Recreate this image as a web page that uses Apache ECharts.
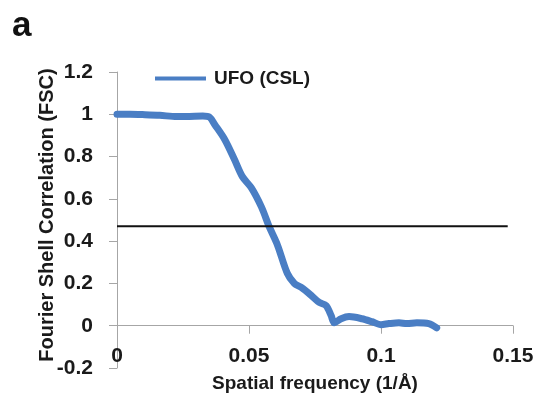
<!DOCTYPE html>
<html>
<head>
<meta charset="utf-8">
<script src="https://cdn.jsdelivr.net/npm/echarts@6/dist/echarts.min.js"></script>
<style>
  html, body { margin: 0; padding: 0; background: #fff; }
  #chart { width: 548px; height: 397px; }
</style>
</head>
<body>
<div id="chart"></div>
<script>
// Fourier shell correlation curve: [spatial frequency (1/Å), FSC]
const fscFreq = [0, 0.0049, 0.0106, 0.0162, 0.0226, 0.0275, 0.0325, 0.0351, 0.037, 0.0408,
  0.0445, 0.0475, 0.0509, 0.0547, 0.0577, 0.0608, 0.0645, 0.0672, 0.0698, 0.0736,
  0.0766, 0.0792, 0.0811, 0.0823, 0.0849, 0.0879, 0.0928, 0.0966, 0.1, 0.103,
  0.1068, 0.1098, 0.1136, 0.1181, 0.1211];
const fscValue = [1.0, 1.0, 0.998, 0.995, 0.989, 0.99, 0.992, 0.986, 0.952, 0.881,
  0.786, 0.705, 0.652, 0.562, 0.467, 0.381, 0.248, 0.2, 0.181, 0.143,
  0.11, 0.095, 0.048, 0.014, 0.033, 0.043, 0.033, 0.019, 0.005, 0.01,
  0.014, 0.01, 0.014, 0.01, -0.01];

// resolution threshold line
const thresholdFreq = [0, 0.148];
const thresholdValue = [0.47, 0.47];

const seriesName = 'UFO (CSL)';
const xTicks = { min: 0, max: 0.15, interval: 0.05 };
const yTicks = { min: -0.2, max: 1.2, interval: 0.2 };

const fontFamily = '"Liberation Sans", Arial, sans-serif';
const textColor = '#1a1a1a';
const axisColor = '#a6a6a6';

const chart = echarts.init(document.getElementById('chart'), null, { renderer: 'canvas' });

chart.setOption({
  animation: false,
  title: {
    text: 'a',
    left: 7,
    top: 4,
    textStyle: { fontFamily, fontSize: 35, fontWeight: 'bold', color: '#111' }
  },
  legend: {
    data: [seriesName],
    left: 150,
    top: 64,
    icon: 'rect',
    itemWidth: 51,
    itemHeight: 4,
    textStyle: { fontFamily, fontSize: 19, fontWeight: 'bold', color: textColor, padding: [0, 0, 0, 3] }
  },
  grid: { left: 117, right: 35, top: 72, bottom: 29, outerBoundsMode: 'none' },
  xAxis: {
    type: 'value',
    min: xTicks.min,
    max: xTicks.max,
    interval: xTicks.interval,
    name: 'Spatial frequency (1/Å)',
    nameLocation: 'middle',
    nameGap: 6,
    nameTextStyle: { fontFamily, fontSize: 19, fontWeight: 'bold', color: textColor },
    axisLine: { onZero: true, lineStyle: { color: axisColor, width: 1 } },
    axisTick: { show: true, length: 8, lineStyle: { color: axisColor } },
    axisLabel: {
      fontFamily, fontSize: 21, fontWeight: 'bold', color: textColor, margin: -22,
      formatter: v => String(+v.toFixed(2))
    },
    splitLine: { show: false }
  },
  yAxis: {
    type: 'value',
    min: yTicks.min,
    max: yTicks.max,
    interval: yTicks.interval,
    name: 'Fourier Shell Correlation (FSC)',
    nameLocation: 'middle',
    nameGap: 60,
    nameMoveOverlap: false,
    nameTextStyle: { fontFamily, fontSize: 20, fontWeight: 'bold', color: textColor, padding: [0, 0, 0, 10] },
    axisLine: { show: true, onZero: false, lineStyle: { color: axisColor, width: 1 } },
    axisTick: { show: true, length: 8, lineStyle: { color: axisColor } },
    axisLabel: {
      fontFamily, fontSize: 21, fontWeight: 'bold', color: textColor, margin: 24,
      formatter: v => String(+v.toFixed(1))
    },
    splitLine: { show: false }
  },
  series: [
    {
      name: seriesName,
      type: 'line',
      data: fscFreq.map((f, i) => [f, fscValue[i]]),
      showSymbol: false,
      smooth: 0.3,
      lineStyle: { color: '#4a7ec4', width: 7, cap: 'round', join: 'round' },
      itemStyle: { color: '#4a7ec4' },
      z: 3
    },
    {
      name: 'threshold',
      type: 'line',
      data: thresholdFreq.map((f, i) => [f, thresholdValue[i]]),
      showSymbol: false,
      lineStyle: { color: '#111', width: 2 },
      z: 4
    }
  ]
});
</script>
</body>
</html>
